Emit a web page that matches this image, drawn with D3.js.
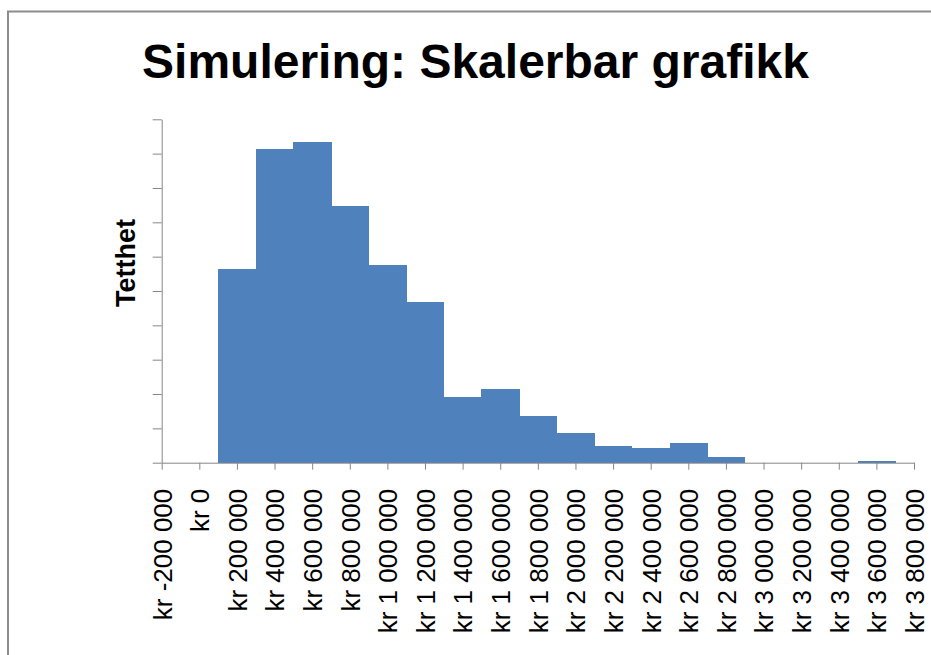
<!DOCTYPE html>
<html>
<head>
<meta charset="utf-8">
<script src="https://cdn.jsdelivr.net/npm/d3@7"></script>
<style>
  html, body { margin: 0; padding: 0; background: #ffffff; }
  svg { display: block; font-family: "Liberation Sans", Arial, sans-serif; }
</style>
</head>
<body>
<svg id="chart" width="931" height="655"></svg>
<script>
// ---- data ----
const titleText = "Simulering: Skalerbar grafikk";
const yAxisTitle = "Tetthet";
const binCenters = [200000, 400000, 600000, 800000, 1000000, 1200000, 1400000, 1600000, 1800000,
                    2000000, 2200000, 2400000, 2600000, 2800000, 3000000, 3200000, 3400000, 3600000];
const densities  = [5.65, 9.13, 9.34, 7.47, 5.76, 4.67, 1.90, 2.14, 1.36,
                    0.87, 0.50, 0.42, 0.57, 0.16, 0, 0, 0, 0.05];
const binWidth = 200000;
const xTickValues = [-200000, 0, 200000, 400000, 600000, 800000, 1000000, 1200000, 1400000, 1600000,
                     1800000, 2000000, 2200000, 2400000, 2600000, 2800000, 3000000, 3200000, 3400000,
                     3600000, 3800000];
const xTickLabels = ["kr -200 000", "kr 0", "kr 200 000", "kr 400 000", "kr 600 000", "kr 800 000",
                     "kr 1 000 000", "kr 1 200 000", "kr 1 400 000", "kr 1 600 000", "kr 1 800 000",
                     "kr 2 000 000", "kr 2 200 000", "kr 2 400 000", "kr 2 600 000", "kr 2 800 000",
                     "kr 3 000 000", "kr 3 200 000", "kr 3 400 000", "kr 3 600 000", "kr 3 800 000"];
const yTickValues = [0, 1, 2, 3, 4, 5, 6, 7, 8, 9, 10];

// ---- layout ----
const svg = d3.select("#chart");
const plot = { left: 161.7, right: 914, top: 119.3, bottom: 462.7 };
const axisColor = "#868686";
const barColor = "#4f81bd";

svg.append("rect").attr("width", 931).attr("height", 655).attr("fill", "#fff");

// outer chart border (extends past the picture on right/bottom)
svg.append("path")
  .attr("d", "M8,660 L8,11.5 L940,11.5")
  .attr("fill", "none").attr("stroke", "#8c8c8c").attr("stroke-width", 2);

const x = d3.scaleLinear().domain([-200000, 3800000]).range([plot.left, plot.right]);
const y = d3.scaleLinear().domain([0, 10]).range([plot.bottom, plot.top]);

// bars
svg.append("g").attr("shape-rendering", "crispEdges").selectAll("rect")
  .data(binCenters.map((c, i) => ({ c, v: densities[i] })))
  .join("rect")
  .attr("x", d => x(d.c - binWidth / 2))
  .attr("width", d => x(d.c + binWidth / 2) - x(d.c - binWidth / 2) + 0.6)
  .attr("y", d => y(d.v))
  .attr("height", d => y(0) - y(d.v))
  .attr("fill", barColor);

// y axis
const yAxis = svg.append("g")
  .attr("transform", `translate(${plot.left},0)`)
  .call(d3.axisLeft(y).tickValues(yTickValues).tickSize(9).tickSizeOuter(0).tickFormat(""));
yAxis.selectAll("path, line").attr("stroke", axisColor);

// x axis
const xAxis = svg.append("g")
  .attr("transform", `translate(0,${plot.bottom})`)
  .call(d3.axisBottom(x).tickValues(xTickValues).tickSize(7).tickSizeOuter(0)
    .tickFormat((d, i) => xTickLabels[i]));
xAxis.selectAll("path, line").attr("stroke", axisColor);
xAxis.selectAll("text")
  .attr("transform", "rotate(-90)")
  .attr("text-anchor", "end")
  .attr("x", -26)
  .attr("y", 0)
  .attr("dy", "0.36em")
  .attr("fill", "#000")
  .style("font-family", "'Liberation Sans', Arial, sans-serif")
  .style("font-size", "26px");

// title
svg.append("text")
  .attr("x", 475.5).attr("y", 78)
  .attr("text-anchor", "middle")
  .style("font-size", "48px").style("font-weight", "bold")
  .attr("fill", "#000")
  .text(titleText);

// y axis title
svg.append("text")
  .attr("transform", "translate(135,263) rotate(-90)")
  .attr("text-anchor", "middle")
  .style("font-size", "27px").style("font-weight", "bold")
  .attr("fill", "#000")
  .text(yAxisTitle);
</script>
</body>
</html>
